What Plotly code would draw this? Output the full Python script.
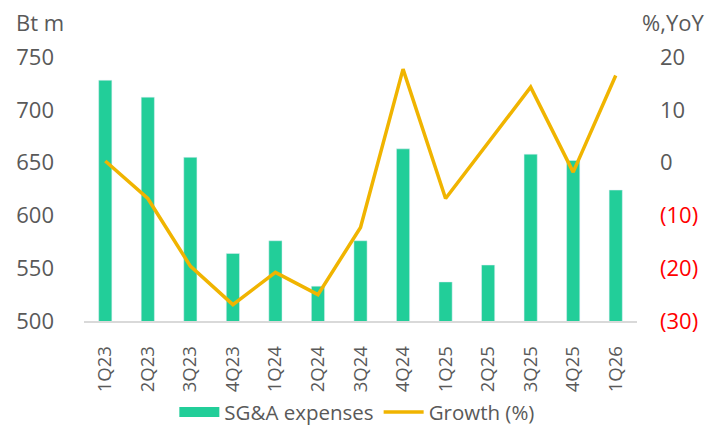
import plotly.graph_objects as go

quarters = ["1Q23", "2Q23", "3Q23", "4Q23", "1Q24", "2Q24", "3Q24",
            "4Q24", "1Q25", "2Q25", "3Q25", "4Q25", "1Q26"]
sga_expenses = [728, 712, 655, 564, 576, 533, 576, 663, 537, 553, 658, 652, 624]
growth_pct = [0.3, -6.8, -19.6, -26.9, -20.8, -25.0, -12.3, 17.7, -6.8, 3.8, 14.3, -1.8, 16.5]

left_ticks = [500, 550, 600, 650, 700, 750]
right_ticks = [-30, -20, -10, 0, 10, 20]
right_tick_text = ["(30)", "(20)", "(10)", "0", "10", "20"]

GREY = "#595959"
BAR_COLOR = "#22CE99"
LINE_COLOR = "#F0B400"
FONT = "Open Sans"

right_labels = []
for v, t in zip(right_ticks, right_tick_text):
    if v < 0:
        right_labels.append(f'<span style="color:#FF0000">{t}</span>')
    else:
        right_labels.append(t)

fig = go.Figure()

fig.add_trace(go.Bar(
    x=quarters,
    y=sga_expenses,
    name="SG&A expenses",
    marker=dict(color=BAR_COLOR),
    width=0.31,
    showlegend=False,
))

# legend-only entry so the swatch is a wide block like the original
fig.add_trace(go.Scatter(
    x=[None], y=[None],
    mode="lines",
    name="SG&A expenses",
    line=dict(color=BAR_COLOR, width=13),
))

fig.add_trace(go.Scatter(
    x=quarters,
    y=growth_pct,
    name="Growth (%)",
    mode="lines",
    line=dict(color=LINE_COLOR, width=3.5),
    yaxis="y2",
))

fig.update_layout(
    width=719,
    height=428,
    margin=dict(l=84, r=82, t=57, b=107, autoexpand=False),
    plot_bgcolor="white",
    paper_bgcolor="white",
    font=dict(family=FONT, color=GREY, size=20),
    showlegend=True,
    legend=dict(
        orientation="h",
        xref="container", yref="container",
        x=0.497, xanchor="center",
        y=0.037, yanchor="middle",
        font=dict(size=20.5, color=GREY),
        itemwidth=40,
        tracegroupgap=0,
    ),
    xaxis=dict(
        tickangle=-90,
        tickfont=dict(size=18.5, color=GREY),
        showline=True,
        linecolor="#D9D9D9",
        linewidth=1.5,
        showgrid=False,
        ticks="",
        ticklabelstandoff=16,
        automargin=False,
    ),
    yaxis=dict(
        range=[500, 750],
        tickvals=left_ticks,
        showgrid=False,
        zeroline=False,
        showline=False,
        tickfont=dict(size=22, color=GREY),
        ticklabelstandoff=29,
        automargin=False,
    ),
    yaxis2=dict(
        range=[-30, 20],
        overlaying="y",
        side="right",
        tickvals=right_ticks,
        ticktext=right_labels,
        showgrid=False,
        zeroline=False,
        showline=False,
        tickfont=dict(size=22, color=GREY),
        ticklabelstandoff=22,
        automargin=False,
    ),
)

fig.add_annotation(
    xref="paper", yref="paper",
    x=-0.127, y=1.133,
    xanchor="left", yanchor="middle",
    text="Bt m",
    showarrow=False,
    font=dict(size=22, color=GREY, family=FONT),
)

fig.add_annotation(
    xref="paper", yref="paper",
    x=1.125, y=1.133,
    xanchor="right", yanchor="middle",
    text="%,YoY",
    showarrow=False,
    font=dict(size=22, color=GREY, family=FONT),
)

# drop the default page margin so the figure sits at the window origin
fig.write_html(
    "out.html",
    config={"displayModeBar": False},
    post_script="document.body.style.margin='0';",
)
